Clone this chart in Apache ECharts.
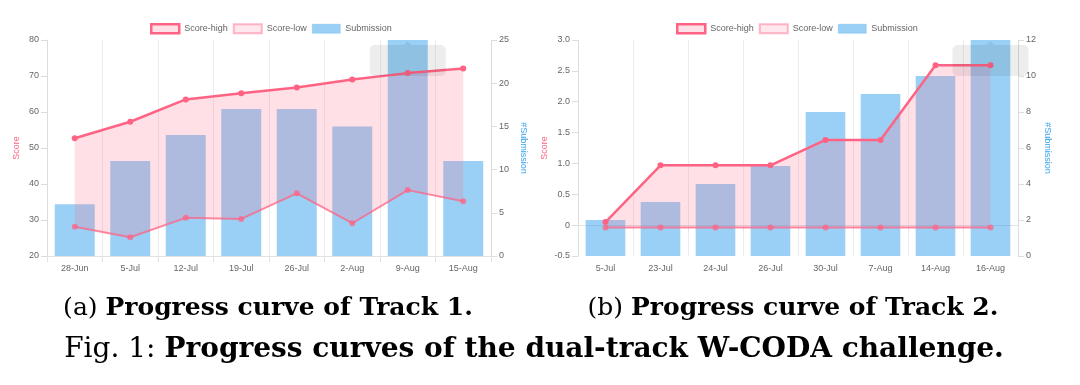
<!DOCTYPE html>
<html>
<head>
<meta charset="utf-8">
<script src="https://cdn.jsdelivr.net/npm/echarts@6/dist/echarts.min.js"></script>
<style>
html,body{margin:0;padding:0;background:#fff;}
#c{width:1080px;height:385px;}
</style>
</head>
<body>
<div id="c"></div>
<script>
// ---- data ----
const cats1 = ['28-Jun','5-Jul','12-Jul','19-Jul','26-Jul','2-Aug','9-Aug','15-Aug'];
const high1 = [52.7, 57.3, 63.5, 65.2, 66.8, 69.0, 70.8, 72.1];
const low1  = [28.1, 25.2, 30.6, 30.3, 37.4, 29.1, 38.3, 35.2];
const sub1  = [6, 11, 14, 17, 17, 15, 25, 11];

const cats2 = ['5-Jul','23-Jul','24-Jul','26-Jul','30-Jul','7-Aug','14-Aug','16-Aug'];
const high2 = [0.05, 0.97, 0.97, 0.97, 1.38, 1.38, 2.59, 2.59];
const low2  = [-0.04, -0.04, -0.04, -0.04, -0.04, -0.04, -0.04, -0.04];
const sub2  = [2, 3, 4, 5, 8, 9, 10, 12];

const scoreAxis1 = [20, 80, 10];   // min, max, interval
const subAxis1   = [0, 25, 5];
const scoreAxis2 = [-0.5, 3, 0.5];
const subAxis2   = [0, 12, 2];

const captionA = ['(a) ', 'Progress curve of Track 1.'];
const captionB = ['(b) ', 'Progress curve of Track 2.'];
const captionFig = ['Fig. 1: ', 'Progress curves of the dual-track W-CODA challenge.'];

// ---- styles ----
const FONT = 'Liberation Sans';
const PINK = '#ff6384';
const PINK_FILL = 'rgba(255,99,132,0.2)';
const PINK_LOW = 'rgba(255,99,132,0.75)';
const BLUE = 'rgba(54,162,235,0.5)';
const AX = '#e2e2e2';
const LBL = '#666';

const chart = echarts.init(document.getElementById('c'), null, {renderer: 'canvas'});

function xAxis(gi, cats) {
  return {
    type: 'category', gridIndex: gi, data: cats, boundaryGap: true,
    axisLine: {lineStyle: {color: AX}},
    axisTick: {show: true, length: 6, lineStyle: {color: AX}},
    axisLabel: {color: LBL, fontSize: 9, fontFamily: FONT, margin: 8},
    splitLine: {show: true, lineStyle: {color: '#ededed'}}
  };
}
function scoreY(gi, r, gap, fmt) {
  return {
    type: 'value', gridIndex: gi, position: 'left', min: r[0], max: r[1], interval: r[2],
    name: 'Score', nameLocation: 'middle', nameGap: gap,
    nameTextStyle: {color: PINK, fontSize: 9, fontFamily: FONT},
    axisLine: {show: true, lineStyle: {color: '#dcdcdc'}},
    axisTick: {show: true, length: 6, lineStyle: {color: '#dcdcdc'}},
    axisLabel: {color: LBL, fontSize: 9, fontFamily: FONT, margin: 8, formatter: fmt},
    splitLine: {show: false}
  };
}
function subY(gi, r, gap) {
  return {
    type: 'value', gridIndex: gi, position: 'right', min: r[0], max: r[1], interval: r[2],
    name: '#Submission', nameLocation: 'middle', nameGap: gap, nameRotate: -90,
    nameTextStyle: {color: '#36a2eb', fontSize: 9, fontFamily: FONT},
    axisLine: {show: true, lineStyle: {color: '#dcdcdc'}},
    axisTick: {show: true, length: 6, lineStyle: {color: '#dcdcdc'}},
    axisLabel: {color: LBL, fontSize: 9, fontFamily: FONT, margin: 8},
    splitLine: {show: false}
  };
}
function seriesFor(xi, ys, ysub, cats, high, low, sub) {
  const diff = high.map((h, i) => +(h - low[i]).toFixed(4));
  const stack = 'band' + xi;
  return [
    {name: 'Submission', type: 'bar', xAxisIndex: xi, yAxisIndex: ysub, data: sub,
     barWidth: '72%', itemStyle: {color: BLUE}, z: 1, silent: true},
    {name: 'band-base' + xi, type: 'line', xAxisIndex: xi, yAxisIndex: ys, data: low,
     stack: stack, stackStrategy: 'all', symbol: 'none', lineStyle: {opacity: 0}, z: 2, silent: true},
    {name: 'band-diff' + xi, type: 'line', xAxisIndex: xi, yAxisIndex: ys, data: diff,
     stack: stack, stackStrategy: 'all', symbol: 'none', lineStyle: {opacity: 0},
     areaStyle: {color: PINK_FILL, opacity: 1}, z: 2, silent: true},
    {name: 'Score-low', type: 'line', xAxisIndex: xi, yAxisIndex: ys, data: low,
     symbol: 'circle', symbolSize: 6, itemStyle: {color: PINK_LOW},
     lineStyle: {color: PINK_LOW, width: 2}, z: 3, silent: true},
    {name: 'Score-high', type: 'line', xAxisIndex: xi, yAxisIndex: ys, data: high,
     symbol: 'circle', symbolSize: 6, itemStyle: {color: PINK},
     lineStyle: {color: PINK, width: 2.5}, z: 4, silent: true}
  ];
}
const legendData = [
  {name: 'Score-high', icon: 'rect', itemStyle: {color: PINK_FILL, borderColor: PINK, borderWidth: 2.5}},
  {name: 'Score-low', icon: 'rect', itemStyle: {color: 'rgba(255,99,132,0.15)', borderColor: 'rgba(255,99,132,0.45)', borderWidth: 2}},
  {name: 'Submission', icon: 'rect', itemStyle: {color: BLUE, borderColor: 'rgba(54,162,235,0.25)', borderWidth: 1}}
];
function legend(left) {
  return {left: left, top: 23, padding: 0, itemWidth: 28, itemHeight: 9, itemGap: 5,
    selectedMode: false, data: legendData,
    textStyle: {fontSize: 9, color: LBL, fontFamily: FONT}};
}
const fmt2 = v => (v === 0 ? '0' : v.toFixed(1));

chart.setOption({
  animation: false,
  textStyle: {fontFamily: FONT},
  legend: [legend(150), legend(676)],
  grid: [
    {left: 47, top: 40, width: 444, height: 216},
    {left: 578, top: 40, width: 440, height: 216}
  ],
  xAxis: [xAxis(0, cats1), xAxis(1, cats2)],
  yAxis: [scoreY(0, scoreAxis1, 26), subY(0, subAxis1, 28), scoreY(1, scoreAxis2, 29, fmt2), subY(1, subAxis2, 25)],
  series: [].concat(
    seriesFor(0, 0, 1, cats1, high1, low1, sub1),
    seriesFor(1, 2, 3, cats2, high2, low2, sub2)
  )
});

// leftover hover box (as in the reference screenshot) above the last highlighted bar
function hoverBox(xi, yi, idx, val) {
  const p = chart.convertToPixel({xAxisIndex: xi, yAxisIndex: yi}, [idx, val]);
  return [
    {type: 'rect', shape: {x: p[0] - 38, y: p[1] + 5, width: 76, height: 31, r: 5},
     style: {fill: 'rgba(0,0,0,0.07)'}, z: 10, silent: true},
    {type: 'polygon', shape: {points: [[p[0] - 4, p[1] + 5], [p[0], p[1] + 1], [p[0] + 4, p[1] + 5]]},
     style: {fill: 'rgba(0,0,0,0.07)'}, z: 10, silent: true}
  ];
}
function caption(parts, cx, cy, size) {
  return {type: 'text', x: cx, y: cy, silent: true,
    style: {text: '{r|' + parts[0] + '}{b|' + parts[1] + '}', align: 'center', verticalAlign: 'middle',
      fill: '#000',
      rich: {
        r: {fontFamily: 'DejaVu Serif', fontSize: size, fill: '#000'},
        b: {fontFamily: 'DejaVu Serif', fontWeight: 'bold', fontSize: size, fill: '#000'}
      }}};
}
const g = [].concat(
  hoverBox(0, 1, 6, sub1[6]),
  hoverBox(1, 3, 7, sub2[7]),
  [caption(captionA, 268, 308, 25), caption(captionB, 793, 308, 25), caption(captionFig, 534, 350, 28)]
);
chart.setOption({graphic: {elements: g}});
</script>
</body>
</html>
